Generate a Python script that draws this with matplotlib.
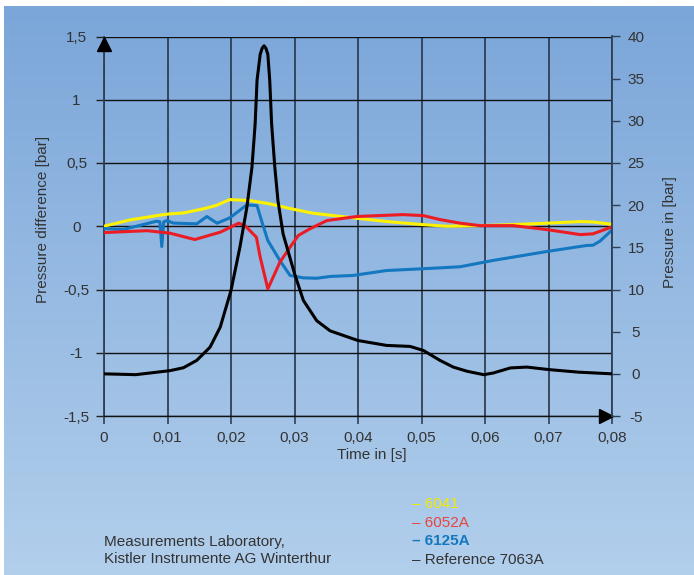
import matplotlib.pyplot as plt
import matplotlib.transforms as mtransforms
import numpy as np

# time axis in seconds, pressure difference in bar (left axis)
t_6041 = [0.0, 0.0041, 0.0091, 0.0104, 0.0125, 0.0156, 0.0177, 0.0198, 0.0230, 0.0261,
          0.0293, 0.0329, 0.0398, 0.0450, 0.0502, 0.0540, 0.0592, 0.0644, 0.0697, 0.0750,
          0.0770, 0.0800]
p_6041 = [0.0, 0.05, 0.09, 0.098, 0.105, 0.137, 0.165, 0.211, 0.203, 0.177,
          0.14, 0.103, 0.063, 0.035, 0.013, 0.0, 0.005, 0.013, 0.024, 0.037,
          0.034, 0.015]

t_6052 = [0.0, 0.0068, 0.0104, 0.0143, 0.0183, 0.0212, 0.0222, 0.0240, 0.0246, 0.0258,
          0.0277, 0.0293, 0.0306, 0.0324, 0.0351, 0.0398, 0.0471, 0.0503, 0.0529, 0.0560,
          0.0592, 0.0644, 0.0697, 0.0750, 0.0770, 0.0800]
p_6052 = [-0.05, -0.035, -0.055, -0.105, -0.047, 0.024, 0.005, -0.087, -0.245, -0.495,
          -0.284, -0.166, -0.073, -0.021, 0.045, 0.077, 0.092, 0.084, 0.053, 0.025,
          0.005, 0.005, -0.026, -0.066, -0.06, -0.005]

t_6125 = [0.0, 0.0030, 0.0083, 0.0088, 0.0091, 0.0094, 0.0099, 0.0109, 0.0146, 0.0162,
          0.0178, 0.0198, 0.0225, 0.0241, 0.0248, 0.0258, 0.0277, 0.0293, 0.0314, 0.0335,
          0.0356, 0.0392, 0.0445, 0.0529, 0.0561, 0.0613, 0.0697, 0.0760, 0.0770, 0.0781,
          0.0800]
p_6125 = [-0.018, -0.026, 0.04, 0.035, -0.16, 0.034, 0.045, 0.025, 0.019, 0.077,
          0.024, 0.066, 0.169, 0.163, 0.045, -0.113, -0.271, -0.389, -0.408, -0.411,
          -0.397, -0.389, -0.35, -0.329, -0.32, -0.27, -0.20, -0.152, -0.15, -0.118,
          -0.03]

# reference sensor, absolute pressure in bar (right axis)
t_ref = [0.0, 0.0050, 0.0104, 0.0125, 0.0146, 0.0167, 0.0183, 0.0200, 0.0214, 0.0225,
         0.0233, 0.0238, 0.0241, 0.0246, 0.0249, 0.0252, 0.0255, 0.0258, 0.0261, 0.0264,
         0.0269, 0.0274, 0.0282, 0.0300, 0.0314, 0.0335, 0.0356, 0.0400, 0.0445, 0.0482,
         0.0503, 0.0529, 0.0550, 0.0572, 0.0598, 0.0613, 0.0640, 0.0666, 0.0701, 0.0747,
         0.0800]
p_ref = [0.0, -0.1, 0.38, 0.72, 1.59, 3.16, 5.53, 9.88, 15.0, 19.75,
         24.5, 29.6, 34.8, 37.9, 38.6, 38.9, 38.6, 37.9, 34.8, 29.6,
         24.5, 20.5, 16.6, 11.9, 8.7, 6.3, 5.1, 3.95, 3.37, 3.25,
         2.77, 1.6, 0.8, 0.3, -0.1, 0.1, 0.7, 0.8, 0.5, 0.2,
         0.0]

xticks = [0, 0.01, 0.02, 0.03, 0.04, 0.05, 0.06, 0.07, 0.08]
xlabels = ['0', '0,01', '0,02', '0,03', '0,04', '0,05', '0,06', '0,07', '0,08']
yticks = [-1.5, -1, -0.5, 0, 0.5, 1, 1.5]
ylabels = ['-1,5', '-1', '-0,5', '0', '0,5', '1', '1,5']
y2ticks = [-5, 0, 5, 10, 15, 20, 25, 30, 35, 40]

legend_names = ['6041', '6052A', '6125A', 'Reference 7063A']
legend_colors = ['#f2ea00', '#e8453c', '#1478c0', '#333333']
legend_weights = ['normal', 'normal', 'bold', 'normal']

plt.rcParams['font.family'] = ['Liberation Sans', 'DejaVu Sans']
plt.rcParams['font.size'] = 11
plt.rcParams['lines.solid_joinstyle'] = 'round'
plt.rcParams['lines.solid_capstyle'] = 'round'

W, H = 694, 575
fig = plt.figure(figsize=(W / 100, H / 100), dpi=100)
fig.patch.set_facecolor('white')

# blue gradient backdrop
bg = fig.add_axes([4 / W, 0, 1 - 4 / W, 1 - 6 / H])
top = np.array([123, 166, 217]) / 255
bottom = np.array([178, 207, 236]) / 255
frac = np.linspace(0, 1, 256)[:, None, None]
bg.imshow(top + (bottom - top) * frac, aspect='auto', extent=[0, 1, 0, 1])
bg.axis('off')

txt = '#333333'
ax = fig.add_axes([104 / W, 1 - 416 / H, 508 / W, 379.5 / H])
ax.patch.set_alpha(0)
ax.set_xlim(0, 0.08)
ax.set_ylim(-1.5, 1.5)

ax.plot(t_6041, p_6041, color='#fff200', lw=2.2, zorder=3)
ax.plot(t_6125, p_6125, color='#1478c0', lw=2.2, zorder=4)
ax.plot(t_6052, p_6052, color='#ec1c24', lw=2.2, zorder=5)

ax.set_xticks(xticks, xlabels)
ax.set_yticks(yticks, ylabels, ha='center')
ax.tick_params(axis='x', direction='out', length=5.8, width=1.2, color='#2f3f55',
               pad=5, labelcolor=txt, labelsize=11)
ax.tick_params(axis='y', direction='out', length=5.8, width=1.0, color='#222222',
               pad=14, labelcolor=txt, labelsize=11)
ax.xaxis.grid(True, color='#2f3f55', lw=1.3)
ax.yaxis.grid(True, color='#111111', lw=1.0)
for s in ['top', 'right']:
    ax.spines[s].set_visible(False)
ax.spines['left'].set_color('#2f3f55')
ax.spines['left'].set_linewidth(1.3)
ax.spines['bottom'].set_color('#111111')
ax.spines['bottom'].set_linewidth(1.0)

ax.set_xlabel('Time in [s]', color=txt, fontsize=11)
ax.xaxis.set_label_coords(0.528, -0.085)
ax.set_ylabel('Pressure difference [bar]', color=txt, fontsize=11)
ax.yaxis.set_label_coords(-0.106, 0.518)

# axis arrows
up = mtransforms.offset_copy(ax.transAxes, fig=fig, x=0, y=-7.5, units='dots')
ax.plot([0], [1], marker='^', ms=9.5, color='black', transform=up, clip_on=False, zorder=6)
right = mtransforms.offset_copy(ax.transAxes, fig=fig, x=-6.5, y=0, units='dots')
ax.plot([1], [0], marker='>', ms=9.5, color='black', transform=right, clip_on=False, zorder=6)

ax2 = ax.twinx()
ax2.set_ylim(-5, 40)
ax2.plot(t_ref, p_ref, color='black', lw=2.2, zorder=6)
ax2.set_yticks(y2ticks, [str(v) for v in y2ticks], ha='center')
ax2.tick_params(axis='y', direction='out', length=5.8, width=1.0, color='#2f3f55',
                pad=11.5, labelcolor=txt, labelsize=11)
for s in ['top', 'left', 'bottom']:
    ax2.spines[s].set_visible(False)
ax2.spines['right'].set_color('#2f3f55')
ax2.spines['right'].set_linewidth(1.3)
ax2.set_ylabel('Pressure in [bar]', color=txt, fontsize=11)
ax2.yaxis.set_label_coords(1.100, 0.484)

# legend as coloured text lines
for i, (name, col, wt) in enumerate(zip(legend_names, legend_colors, legend_weights)):
    fig.text(412 / W, 1 - (504 + 18.7 * i) / H, '\u2013 ' + name, color=col,
             fontweight=wt, fontsize=11, va='center', ha='left')

fig.text(104 / W, 1 - 542 / H, 'Measurements Laboratory,', color=txt, fontsize=11,
         va='center', ha='left')
fig.text(104 / W, 1 - 559 / H, 'Kistler Instrumente AG Winterthur', color=txt, fontsize=11,
         va='center', ha='left')

fig.savefig('out.png', dpi=100)
